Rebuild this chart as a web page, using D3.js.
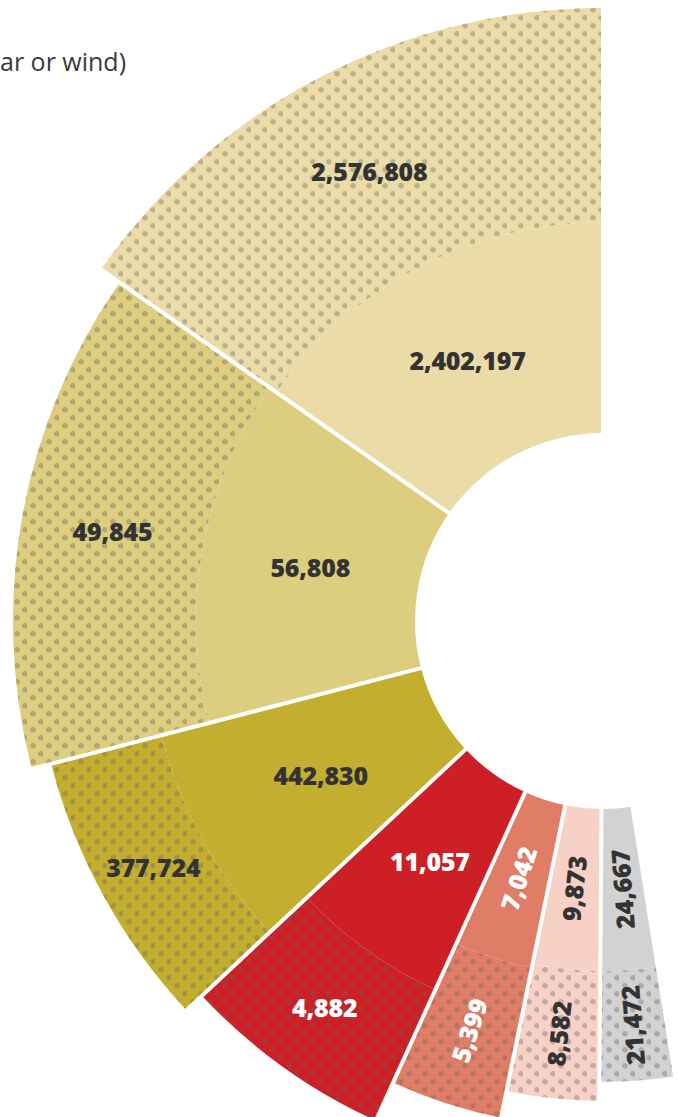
<!DOCTYPE html>
<html>
<head>
<meta charset="utf-8">
<script src="https://cdn.jsdelivr.net/npm/d3@7"></script>
<style>
  html, body { margin: 0; padding: 0; background: #fff; }
  svg { display: block; }
</style>
</head>
<body>
<svg id="chart" width="677" height="1117"></svg>
<script>
// ---- data ----
const categories = ["Group 1", "Group 2", "Group 3", "Group 4", "Group 5", "Group 6", "Group 7"];
const innerValues = [2402197, 56808, 442830, 11057, 7042, 9873, 24667];
const outerValues = [2576808, 49845, 377724, 4882, 5399, 8582, 21472];
// angular share of the sweep (percent)
const angleShare = [29.1, 26.2, 15.1, 11.9, 6.8, 5.9, 5.0];
// radial level (0-100) where the solid ring ends and where the dotted ring ends
const splitLevel = [49.6, 51.5, 63.1, 51.1, 39.1, 38.1, 38.1];
const outerLevel = [100, 94.6, 89.9, 84.9, 75.1, 68.7, 64.2];
const colors = ["#ebdca7", "#dccd7f", "#c4ae2f", "#cc1f26", "#e07d67", "#f8d1c6", "#d2d2d2"];
const labelColors = ["#333333", "#333333", "#333333", "#ffffff", "#ffffff", "#333333", "#333333"];
const captionText = "ar or wind)";

// ---- layout ----
const svg = d3.select("#chart");
const cx = 603, cy = 621;
const sweep = 189 * Math.PI / 180;

const rScale = d3.scaleLinear().domain([0, 100]).range([188, 613]);
const aScale = d3.scaleLinear().domain([0, 100]).range([0, -sweep]);

const defs = svg.append("defs");
const pat = defs.append("pattern")
  .attr("id", "dots")
  .attr("patternUnits", "userSpaceOnUse")
  .attr("width", 16).attr("height", 16);
pat.append("circle").attr("cx", 6).attr("cy", 12.7).attr("r", 2.75).attr("fill", "#646464").attr("fill-opacity", 0.36);
pat.append("circle").attr("cx", 14).attr("cy", 4.7).attr("r", 2.75).attr("fill", "#646464").attr("fill-opacity", 0.36);

let cum = 0;
const data = categories.map((c, i) => {
  const a0 = aScale(cum);
  cum += angleShare[i];
  const a1 = aScale(cum);
  return {
    cat: c, i,
    a0, a1,
    rIn: rScale(0),
    rSplit: rScale(splitLevel[i]),
    rOut: rScale(outerLevel[i]),
    inner: innerValues[i],
    outer: outerValues[i]
  };
});

const arc = d3.arc().padAngle(0.01).padRadius(400);
const g = svg.append("g").attr("transform", `translate(${cx},${cy})`);

const fmt = d3.format(",");

data.forEach(d => {
  const innerArc = { innerRadius: d.rIn, outerRadius: d.rSplit, startAngle: d.a0, endAngle: d.a1 };
  const outerArc = { innerRadius: d.rSplit, outerRadius: d.rOut, startAngle: d.a0, endAngle: d.a1 };
  g.append("path").attr("d", arc(innerArc)).attr("fill", colors[d.i]);
  g.append("path").attr("d", arc(outerArc)).attr("fill", colors[d.i]);
  g.append("path").attr("d", arc(outerArc)).attr("fill", "url(#dots)");
});

// labels
data.forEach(d => {
  const mid = (d.a0 + d.a1) / 2;
  const rot = d.i >= 4 ? mid * 180 / Math.PI + 90 : 0;
  [[d.rIn, d.rSplit, d.inner], [d.rSplit, d.rOut, d.outer]].forEach(([r0, r1, v]) => {
    const [x, y] = arc.centroid({ innerRadius: r0, outerRadius: r1, startAngle: d.a0, endAngle: d.a1 });
    g.append("text")
      .attr("transform", `translate(${x},${y}) rotate(${rot})`)
      .attr("text-anchor", "middle")
      .attr("dy", "0.36em")
      .attr("font-family", "'Open Sans', sans-serif")
      .attr("font-weight", 800)
      .attr("font-size", 25)
      .attr("letter-spacing", -0.2)
      .attr("fill", labelColors[d.i])
      .text(fmt(v));
  });
});

svg.append("text")
  .attr("x", 0).attr("y", 71)
  .attr("font-family", "'Open Sans', sans-serif")
  .attr("font-size", 25)
  .attr("fill", "#3a3a3a")
  .text(captionText);
</script>
</body>
</html>
